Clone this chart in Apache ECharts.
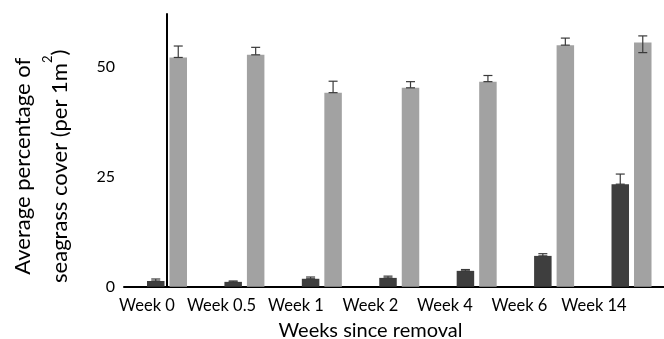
<!DOCTYPE html>
<html>
<head>
<meta charset="utf-8">
<script src="https://cdn.jsdelivr.net/npm/echarts@6/dist/echarts.min.js"></script>
<style>
  html, body { margin: 0; padding: 0; background: #fff; }
  #chart { width: 664px; height: 339px; }
</style>
</head>
<body>
<div id="chart"></div>
<script>
// Sampling times
const categories = ['Week 0', 'Week 0.5', 'Week 1', 'Week 2', 'Week 4', 'Week 6', 'Week 14'];

// Seagrass cover (%) in removal plots, with standard error
const removalMean = [1.3, 1.1, 1.8, 2.0, 3.6, 7.0, 23.3];
const removalErr  = [0.45, 0.2, 0.4, 0.4, 0.3, 0.5, 2.3];

// Seagrass cover (%) in control plots, upper and lower error extents
const controlMean    = [52.1, 52.7, 44.1, 45.2, 46.6, 54.9, 55.5];
const controlErrUp   = [2.6, 1.7, 2.6, 1.4, 1.4, 1.6, 1.5];
const controlErrDown = [0, 0, 0, 0, 0, 0, 2.3];

// Value-axis ticks
const yTicks = [0, 25, 50];
const yMax = 62;

const FONT = 'Lato';
const BAR_W = 17.5;
const BAR_GAP = 5;
const HALF_STEP = (BAR_W + BAR_GAP) / 2;

function errorSeries(name, offset, rows) {
  return {
    name: name,
    type: 'custom',
    xAxisIndex: 0,
    yAxisIndex: 0,
    z: 5,
    encode: { x: 0, y: [1, 2] },
    data: rows,
    renderItem: function (params, api) {
      const lo = api.coord([api.value(0), api.value(1)]);
      const hi = api.coord([api.value(0), api.value(2)]);
      const x = lo[0] + offset;
      const cap = 4.5;
      const st = { stroke: '#3a3a3a', lineWidth: 1.2 };
      return {
        type: 'group',
        children: [
          { type: 'line', shape: { x1: x, y1: lo[1], x2: x, y2: hi[1] }, style: st },
          { type: 'line', shape: { x1: x - cap, y1: hi[1], x2: x + cap, y2: hi[1] }, style: st },
          { type: 'line', shape: { x1: x - cap, y1: lo[1], x2: x + cap, y2: lo[1] }, style: st }
        ]
      };
    }
  };
}

const chart = echarts.init(document.getElementById('chart'), null, { renderer: 'canvas' });

chart.setOption({
  animation: false,
  textStyle: { fontFamily: FONT, color: '#000' },
  grid: [
    // plotting area
    { left: 124, right: 0, top: 13.9, bottom: 52.3, containLabel: false, outerBoundsMode: 'none' },
    // week labels and axis title
    { left: 109.75, right: 32.75, top: 13.9, bottom: 52.3, containLabel: false, outerBoundsMode: 'none' }
  ],
  xAxis: [
    {
      type: 'value',
      gridIndex: 0,
      min: -0.5554,
      max: 6.4196,
      axisLine: { show: true, onZero: false, lineStyle: { color: '#000', width: 2 } },
      axisTick: { show: false },
      axisLabel: { show: false },
      splitLine: { show: false }
    },
    {
      type: 'category',
      gridIndex: 1,
      data: categories,
      axisLine: { show: false, onZero: false },
      axisTick: { show: false },
      splitLine: { show: false },
      axisLabel: { fontFamily: FONT, fontSize: 16.5, color: '#000', margin: 10, interval: 0 },
      name: 'Weeks since removal',
      nameLocation: 'middle',
      nameGap: 34,
      nameTextStyle: { fontFamily: FONT, fontSize: 20, color: '#000' }
    }
  ],
  yAxis: [
    {
      type: 'value',
      gridIndex: 0,
      min: 0,
      max: yMax,
      interval: 25,
      axisLine: { show: true, lineStyle: { color: '#000', width: 2 } },
      axisTick: { show: false },
      splitLine: { show: false },
      axisLabel: {
        fontFamily: FONT, fontSize: 16, color: '#000', margin: 9,
        showMaxLabel: false,
        formatter: function (v) { return yTicks.indexOf(v) >= 0 ? String(v) : ''; }
      },
      name: '{a|Average percentage of}\n{a|seagrass cover (per 1m}{s|2}{a|)}',
      nameLocation: 'middle',
      nameRotate: 90,
      nameGap: 46,
      nameTextStyle: {
        fontFamily: FONT,
        color: '#000',
        padding: [0, 32, 0, 0],
        rich: {
          a: { fontFamily: FONT, fontSize: 22, lineHeight: 37, color: '#000' },
          s: { fontFamily: FONT, fontSize: 13, lineHeight: 8, verticalAlign: 'top', color: '#000' }
        }
      }
    },
    {
      type: 'value',
      gridIndex: 1,
      show: false
    }
  ],
  series: [
    {
      name: 'Removal',
      type: 'bar',
      xAxisIndex: 0,
      yAxisIndex: 0,
      barWidth: BAR_W,
      barGap: (BAR_GAP / BAR_W * 100).toFixed(1) + '%',
      itemStyle: { color: '#3e3e3e' },
      data: removalMean.map(function (v, i) { return [i, v]; })
    },
    {
      name: 'Control',
      type: 'bar',
      xAxisIndex: 0,
      yAxisIndex: 0,
      barWidth: BAR_W,
      itemStyle: { color: '#a2a2a2' },
      data: controlMean.map(function (v, i) { return [i, v]; })
    },
    errorSeries('Removal SE', -HALF_STEP,
      removalMean.map(function (v, i) { return [i, v, v + removalErr[i]]; })),
    errorSeries('Control SE', HALF_STEP,
      controlMean.map(function (v, i) { return [i, v - controlErrDown[i], v + controlErrUp[i]]; }))
  ]
});
</script>
</body>
</html>
